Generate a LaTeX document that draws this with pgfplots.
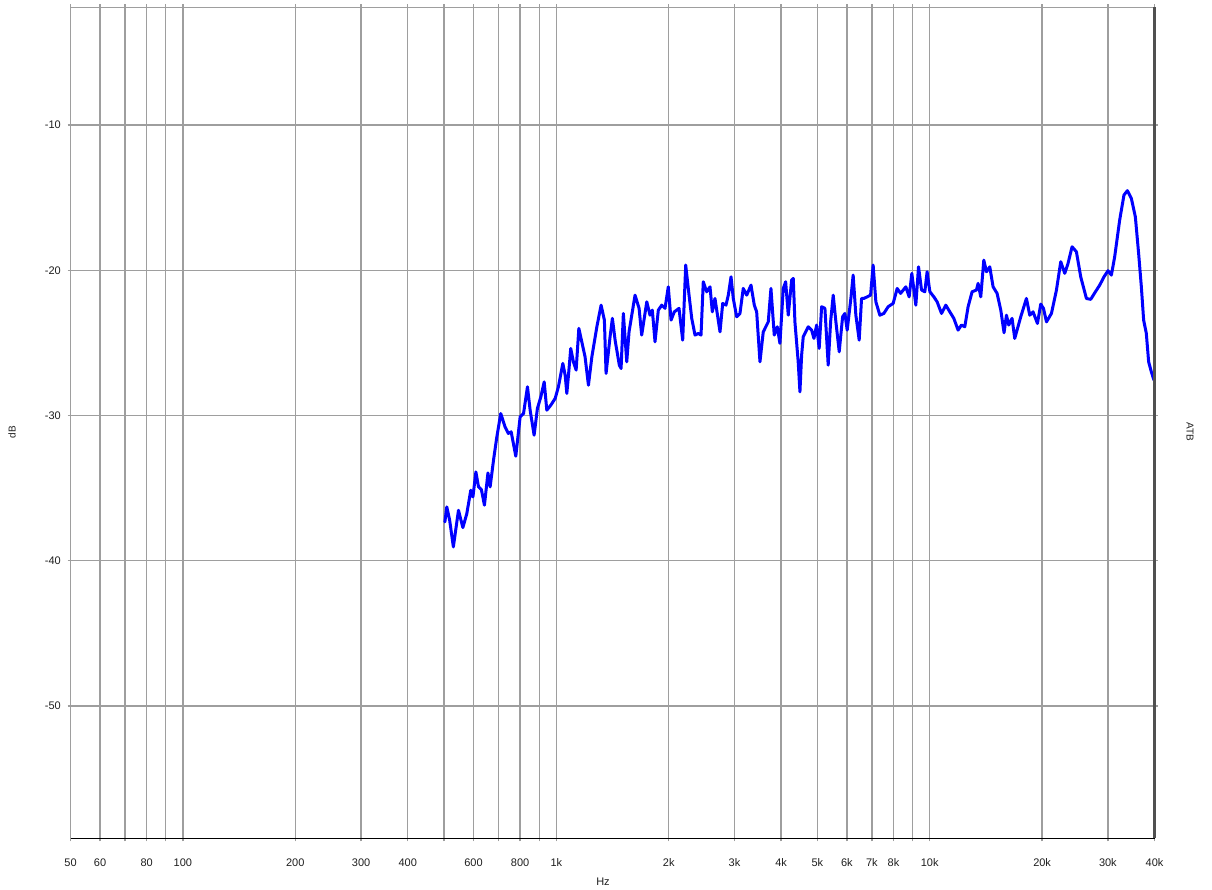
\documentclass[border=0pt]{standalone}
\usepackage{fontspec}
\setmainfont{Liberation Sans}
\usepackage{pgfplots}
\pgfplotsset{compat=1.18}
\usepackage{pgfplotstable}
\definecolor{gridgray}{RGB}{158,158,158}
\definecolor{rightgray}{RGB}{80,80,80}
\definecolor{curveblue}{RGB}{0,0,255}
\definecolor{labelcol}{RGB}{30,30,30}

\pgfplotstableread{
f dB
503 -37.32
509 -36.29
518 -37.20
530 -39.04
547 -36.52
562 -37.71
576 -36.74
590 -35.14
598 -35.60
609 -33.88
619 -34.91
630 -35.09
642 -36.17
656 -33.95
665 -34.91
679 -33.07
693 -31.47
710 -29.86
729 -30.78
744 -31.23
757 -31.12
779 -32.80
800 -30.09
817 -29.86
837 -28.02
851 -29.63
872 -31.35
890 -29.51
909 -28.71
928 -27.68
943 -29.63
967 -29.28
993 -28.82
1013 -28.02
1041 -26.41
1056 -27.22
1067 -28.48
1077 -27.33
1093 -25.38
1111 -26.30
1130 -26.87
1149 -24.00
1170 -24.92
1194 -25.96
1219 -27.91
1245 -25.96
1284 -23.89
1318 -22.40
1345 -23.43
1359 -27.10
1393 -24.58
1413 -23.31
1437 -24.81
1475 -26.53
1491 -26.76
1512 -22.97
1544 -26.30
1566 -24.24
1625 -21.71
1666 -22.62
1693 -24.46
1747 -22.17
1782 -23.09
1808 -22.74
1838 -24.92
1876 -22.74
1916 -22.40
1955 -22.62
1995 -21.14
2029 -23.43
2070 -22.86
2131 -22.62
2180 -24.81
2221 -19.64
2267 -21.71
2305 -23.31
2352 -24.46
2400 -24.35
2441 -24.46
2475 -20.79
2528 -21.48
2580 -21.14
2617 -22.86
2660 -21.94
2744 -24.24
2790 -22.28
2847 -22.40
2888 -21.71
2937 -20.45
2978 -21.94
3041 -23.20
3103 -22.97
3167 -21.25
3235 -21.71
3322 -21.02
3390 -22.40
3440 -22.86
3511 -26.30
3583 -24.24
3695 -23.55
3757 -21.25
3834 -24.46
3906 -23.89
3971 -25.03
4053 -21.25
4113 -20.79
4180 -23.09
4268 -20.67
4311 -20.56
4355 -23.55
4444 -26.30
4492 -28.37
4539 -25.84
4584 -24.58
4728 -23.89
4828 -24.12
4897 -24.69
4979 -23.77
5058 -25.38
5135 -22.51
5240 -22.62
5347 -26.53
5427 -23.55
5515 -21.71
5607 -23.55
5723 -25.61
5844 -23.20
5927 -22.97
6012 -24.12
6150 -21.94
6237 -20.33
6342 -23.09
6473 -24.81
6569 -21.94
6662 -21.94
6800 -21.83
6944 -21.71
7055 -19.64
7175 -22.17
7354 -23.09
7537 -22.97
7739 -22.51
7982 -22.28
8182 -21.25
8355 -21.59
8630 -21.14
8808 -21.83
8956 -20.21
9179 -22.40
9333 -19.76
9509 -21.36
9703 -21.48
9840 -20.10
10010 -21.48
10260 -21.83
10467 -22.17
10755 -22.97
11043 -22.40
11320 -22.86
11602 -23.31
11912 -24.12
12164 -23.77
12414 -23.89
12670 -22.51
12987 -21.48
13342 -21.36
13475 -20.90
13700 -21.83
13958 -19.30
14191 -20.10
14482 -19.76
14782 -21.14
15150 -21.59
15499 -22.74
15816 -24.30
16051 -23.09
16282 -23.77
16616 -23.31
16894 -24.69
17532 -23.20
18156 -21.94
18532 -23.09
18911 -22.86
19434 -23.66
19832 -22.33
20164 -22.62
20545 -23.55
21184 -22.97
21847 -21.36
22434 -19.41
22993 -20.21
23468 -19.52
24053 -18.38
24710 -18.73
25373 -20.45
26282 -21.94
26987 -22.00
27782 -21.48
28527 -21.02
29292 -20.45
30022 -20.03
30657 -20.33
31285 -19.07
32265 -16.54
33131 -14.82
33834 -14.52
34674 -15.05
35539 -16.32
36267 -18.84
36882 -21.14
37404 -23.43
38030 -24.35
38578 -26.30
39223 -26.99
39860 -27.56
}\curvedata

\begin{document}
\begin{tikzpicture}
\path[use as bounding box] (-70.5pt,-51.7pt) rectangle (1141.5pt,838.3pt);
\begin{axis}[
  at={(0,0)}, anchor=south west,
  scale only axis, width=1084pt, height=830.8pt,
  xmode=log, xmin=50, xmax=40000,
  ymin=-59.1, ymax=-1.91,
  log basis x=10,
  xtick={50,60,70,80,90,100,200,300,400,500,600,700,800,900,1000,2000,3000,4000,5000,6000,7000,8000,9000,10000,20000,30000,40000},
  xticklabels={50,60,,80,,100,200,300,400,,600,,800,,1k,2k,3k,4k,5k,6k,7k,8k,,10k,20k,30k,40k},
  minor xtick={},
  ytick={-50,-40,-30,-20,-10},
  yticklabels={-50,-40,-30,-20,-10},
  xmajorgrids, ymajorgrids,
  grid style={draw=gridgray, line width=1.3pt},
  tick align=outside,
  major tick length=3pt,
  tick style={draw=gridgray, line width=1.3pt},
  axis line style={draw=none},
  xticklabel style={font=\fontsize{11}{13}\selectfont, text=labelcol, anchor=center, yshift=-21.5pt},
  yticklabel style={font=\fontsize{11}{13}\selectfont, text=labelcol, anchor=east, inner sep=0pt, xshift=-6.5pt},
  clip=false,
]
\addplot[curveblue, line width=3pt, line join=round, line cap=round] table[x=f, y=dB] {\curvedata};
\draw[gridgray, line width=1.3pt] (rel axis cs:0,0) -- (rel axis cs:0,1) -- (rel axis cs:1,1);
\draw[black, line width=1.3pt] (rel axis cs:0,0) -- (rel axis cs:1,0);
\draw[rightgray, line width=2.4pt] (rel axis cs:1,0) -- (rel axis cs:1,1);
\end{axis}
\node[font=\fontsize{11}{13}\selectfont, text=labelcol] at (532.5pt,-43.7pt) {Hz};
\node[font=\fontsize{10}{12}\selectfont, text=labelcol, rotate=90] at (-58.5pt,406.3pt) {dB};
\node[font=\fontsize{10}{12}\selectfont, text=labelcol, rotate=-90] at (1119.5pt,406.3pt) {ATB};
\end{tikzpicture}
\end{document}
